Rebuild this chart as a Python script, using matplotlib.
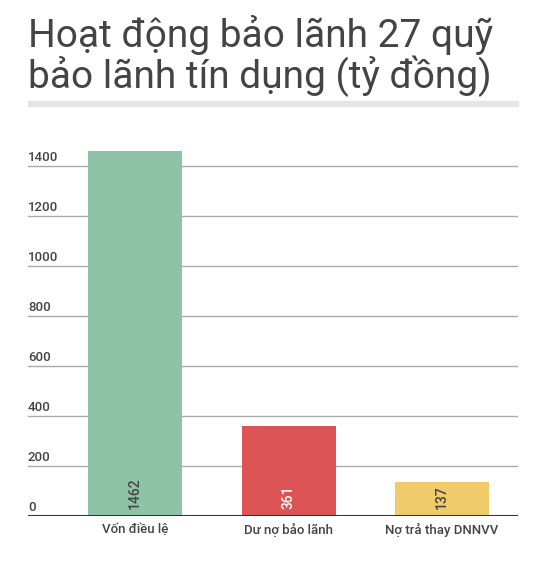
import matplotlib.pyplot as plt
from matplotlib.patches import Rectangle
import matplotlib.transforms as mtransforms

plt.rcParams['font.family'] = ['Roboto', 'DejaVu Sans']

# data
categories = ['Vốn điều lệ', 'Dư nợ bảo lãnh', 'Nợ trả thay DNNVV']
values = [1462, 361, 137]
colors = ['#8fc3a8', '#dc5356', '#f0cb6a']
label_colors = ['#444444', '#ffffff', '#444444']
yticks = [0, 200, 400, 600, 800, 1000, 1200, 1400]

W, H = 548, 564
fig = plt.figure(figsize=(W / 100, H / 100), dpi=100)
ax = fig.add_axes([28 / W, 48 / H, 490 / W, 375 / H])

x = list(range(len(categories)))
ax.bar(x, values, width=0.614, color=colors, zorder=2)
ax.set_xlim(-0.70, 2.497)
ax.set_ylim(0, 1500)

# gridlines + tick labels sitting above the lines
trans = mtransforms.blended_transform_factory(ax.transAxes, ax.transData)
offset = mtransforms.offset_copy(trans, fig=fig, x=0, y=1.5, units='points')
for t in yticks:
    if t > 0:
        ax.axhline(t, color='#aaaaaa', lw=1, zorder=1)
    ax.text(0, t, str(t), transform=offset, ha='left', va='bottom',
            fontsize=9.5, color='#444444', fontweight='medium')
ax.axhline(0, color='#333333', lw=2.2, zorder=3)

# value labels inside bars
for xi, v, c in zip(x, values, label_colors):
    ax.annotate(str(v), (xi, 0), xytext=(0, 5), textcoords='offset points',
                rotation=90, ha='center', va='bottom', fontsize=10,
                color=c, fontweight='medium', zorder=4)

ax.set_xticks(x)
ax.set_xticklabels(categories, fontsize=9.5, color='#444444', fontweight='medium')
ax.tick_params(axis='x', length=0, pad=5)
ax.set_yticks([])
for s in ax.spines.values():
    s.set_visible(False)

# title
fig.text(28 / W, 1 - 47 / H, 'Hoạt động bảo lãnh 27 quỹ', fontsize=28,
         color='#444444', va='baseline', ha='left')
fig.text(28 / W, 1 - 88 / H, 'bảo lãnh tín dụng (tỷ đồng)', fontsize=28,
         color='#444444', va='baseline', ha='left')
fig.patches.append(Rectangle((28 / W, 1 - 106 / H), 490 / W, 5 / H,
                             transform=fig.transFigure, color='#e6e6e6'))

fig.savefig('out.png', dpi=100)
